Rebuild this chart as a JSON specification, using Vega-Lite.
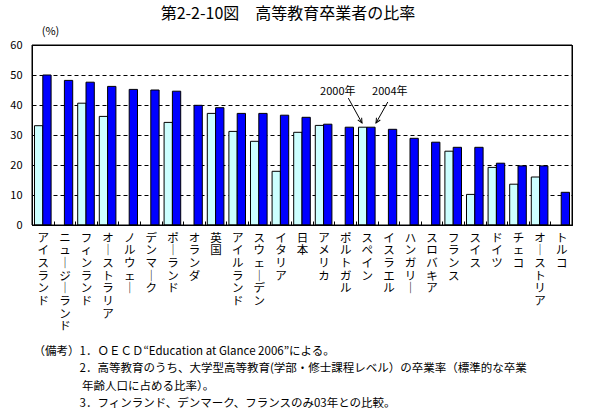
{
  "$schema": "https://vega.github.io/schema/vega-lite/v6.json",
  "width": 540,
  "height": 180,
  "autosize": {"type": "none"},
  "padding": {"left": 32, "top": 45, "right": 20, "bottom": 191},
  "background": "white",
  "config": {
    "font": "Noto Sans CJK JP",
    "view": {"stroke": "black", "strokeWidth": 1},
    "axis": {"labelColor": "black", "titleColor": "black", "labelFont": "Noto Sans CJK JP", "titleFont": "Noto Sans CJK JP"},
    "axisY": {"labelOverlap": false, "tickCount": 7}
  },
  "title": {
    "text": "第2-2-10図　高等教育卒業者の比率",
    "anchor": "middle",
    "frame": "group",
    "fontSize": 16,
    "fontWeight": "normal",
    "color": "black",
    "dx": -14,
    "offset": 3
  },
  "data": {
    "values": [
      {"country": "アイスランド", "year": "2000", "rate": 33.1},
      {"country": "アイスランド", "year": "2004", "rate": 50.0},
      {"country": "ニュージーランド", "year": "2004", "rate": 48.2},
      {"country": "フィンランド", "year": "2000", "rate": 40.6},
      {"country": "フィンランド", "year": "2004", "rate": 47.6},
      {"country": "オーストラリア", "year": "2000", "rate": 36.2},
      {"country": "オーストラリア", "year": "2004", "rate": 46.2},
      {"country": "ノルウェー", "year": "2004", "rate": 45.2},
      {"country": "デンマーク", "year": "2004", "rate": 45.0},
      {"country": "ポーランド", "year": "2000", "rate": 34.2},
      {"country": "ポーランド", "year": "2004", "rate": 44.6},
      {"country": "オランダ", "year": "2004", "rate": 39.9},
      {"country": "英国", "year": "2000", "rate": 37.2},
      {"country": "英国", "year": "2004", "rate": 39.1},
      {"country": "アイルランド", "year": "2000", "rate": 31.2},
      {"country": "アイルランド", "year": "2004", "rate": 37.2},
      {"country": "スウェーデン", "year": "2000", "rate": 27.9},
      {"country": "スウェーデン", "year": "2004", "rate": 37.2},
      {"country": "イタリア", "year": "2000", "rate": 17.9},
      {"country": "イタリア", "year": "2004", "rate": 36.6},
      {"country": "日本", "year": "2000", "rate": 30.9},
      {"country": "日本", "year": "2004", "rate": 35.9},
      {"country": "アメリカ", "year": "2000", "rate": 33.2},
      {"country": "アメリカ", "year": "2004", "rate": 33.6},
      {"country": "ポルトガル", "year": "2004", "rate": 32.6},
      {"country": "スペイン", "year": "2000", "rate": 32.6},
      {"country": "スペイン", "year": "2004", "rate": 32.6},
      {"country": "イスラエル", "year": "2004", "rate": 31.9},
      {"country": "ハンガリー", "year": "2004", "rate": 28.9},
      {"country": "スロバキア", "year": "2004", "rate": 27.6},
      {"country": "フランス", "year": "2000", "rate": 24.6},
      {"country": "フランス", "year": "2004", "rate": 25.9},
      {"country": "スイス", "year": "2000", "rate": 10.2},
      {"country": "スイス", "year": "2004", "rate": 25.9},
      {"country": "ドイツ", "year": "2000", "rate": 19.2},
      {"country": "ドイツ", "year": "2004", "rate": 20.6},
      {"country": "チェコ", "year": "2000", "rate": 13.6},
      {"country": "チェコ", "year": "2004", "rate": 19.7},
      {"country": "オーストリア", "year": "2000", "rate": 16.0},
      {"country": "オーストリア", "year": "2004", "rate": 19.7},
      {"country": "トルコ", "year": "2004", "rate": 10.9}
    ]
  },
  "layer": [
    {
      "mark": {"type": "bar", "stroke": "black", "strokeWidth": 1},
      "encoding": {
        "x": {
          "field": "country",
          "type": "nominal",
          "sort": null,
          "scale": {"paddingInner": 0, "paddingOuter": 0},
          "axis": {
            "domain": false,
            "grid": false,
            "ticks": true,
            "tickBand": "extent",
            "tickSize": -4,
            "tickColor": "black",
            "labelAngle": 0,
            "labelAlign": "center",
            "labelBaseline": "top",
            "labelPadding": 11,
            "labelFontSize": 11.5,
            "labelLineHeight": 12.7,
            "labelExpr": "datum.value ? split(replace(datum.value, regexp('ー', 'g'), '｜'), '') : ''",
            "title": [
              "（備考）1．ＯＥＣＤ“Education at Glance 2006”による。",
              "⁠　　　　2．高等教育のうち、大学型高等教育(学部・修士課程レベル）の卒業率（標準的な卒業",
              "⁠　　　　 年齢人口に占める比率）。",
              "⁠　　　　3．フィンランド、デンマーク、フランスのみ03年との比較。"
            ],
            "titleFontSize": 11.5,
            "titleFontWeight": "normal",
            "titleLineHeight": 17.5,
            "titleAlign": "left",
            "titleBaseline": "top",
            "titleX": 1,
            "titleY": 120
          }
        },
        "xOffset": {
          "field": "year",
          "type": "nominal",
          "scale": {"domain": ["2000", "2004"], "paddingInner": 0, "paddingOuter": 0.3}
        },
        "y": {
          "field": "rate",
          "type": "quantitative",
          "stack": null,
          "scale": {"domain": [0, 60], "nice": false},
          "axis": {
            "values": [0, 10, 20, 30, 40, 50, 60],
            "tickCount": 7,
            "labelOverlap": false,
            "domain": false,
            "ticks": false,
            "grid": true,
            "gridColor": "black",
            "gridDash": [4, 3],
            "gridWidth": 1,
            "gridOpacity": 1,
            "labelFontSize": 11,
            "labelPadding": 10,
            "title": "(%)",
            "titleAngle": 0,
            "titleFontSize": 11,
            "titleFontWeight": "normal",
            "titleAlign": "center",
            "titleBaseline": "middle",
            "titleX": 18,
            "titleY": -14
          }
        },
        "color": {
          "field": "year",
          "type": "nominal",
          "scale": {"domain": ["2000", "2004"], "range": ["#ccffff", "#0000ff"]},
          "legend": null
        }
      }
    },
    {
      "data": {"values": [{"frame": "plot"}]},
      "mark": {"type": "rect", "filled": false, "stroke": "black", "strokeWidth": 1},
      "encoding": {}
    },
    {
      "data": {"values": [{"country": "スペイン", "label": "2000年"}]},
      "mark": {"type": "text", "fontSize": 11, "dx": -29, "baseline": "middle", "align": "center", "color": "black"},
      "encoding": {"x": {"field": "country", "type": "nominal", "sort": null}, "y": {"datum": 44.4}, "text": {"field": "label"}}
    },
    {
      "data": {"values": [{"country": "スペイン", "label": "2004年"}]},
      "mark": {"type": "text", "fontSize": 11, "dx": 23, "baseline": "middle", "align": "center", "color": "black"},
      "encoding": {"x": {"field": "country", "type": "nominal", "sort": null}, "y": {"datum": 44.4}, "text": {"field": "label"}}
    },
    {
      "data": {"values": [{"country": "スペイン"}]},
      "mark": {"type": "rule", "color": "black", "strokeWidth": 1, "xOffset": -18.5, "x2Offset": -4.8},
      "encoding": {"x": {"field": "country", "type": "nominal", "sort": null}, "x2": {"field": "country"}, "y": {"datum": 42.3}, "y2": {"datum": 34}}
    },
    {
      "data": {"values": [{"country": "スペイン"}]},
      "mark": {"type": "rule", "color": "black", "strokeWidth": 1, "xOffset": 21, "x2Offset": 9.2},
      "encoding": {"x": {"field": "country", "type": "nominal", "sort": null}, "x2": {"field": "country"}, "y": {"datum": 41}, "y2": {"datum": 34}}
    },
    {
      "data": {"values": [{"country": "スペイン"}]},
      "mark": {"type": "point", "shape": "M-0.7,-1.5L0,0L0.7,-1.5", "size": 40, "filled": false, "stroke": "black", "strokeWidth": 1, "opacity": 1, "angle": -29, "xOffset": -4.8},
      "encoding": {"x": {"field": "country", "type": "nominal", "sort": null}, "y": {"datum": 34}}
    },
    {
      "data": {"values": [{"country": "スペイン"}]},
      "mark": {"type": "point", "shape": "M-0.7,-1.5L0,0L0.7,-1.5", "size": 40, "filled": false, "stroke": "black", "strokeWidth": 1, "opacity": 1, "angle": 30, "xOffset": 9.2},
      "encoding": {"x": {"field": "country", "type": "nominal", "sort": null}, "y": {"datum": 34}}
    }
  ]
}
